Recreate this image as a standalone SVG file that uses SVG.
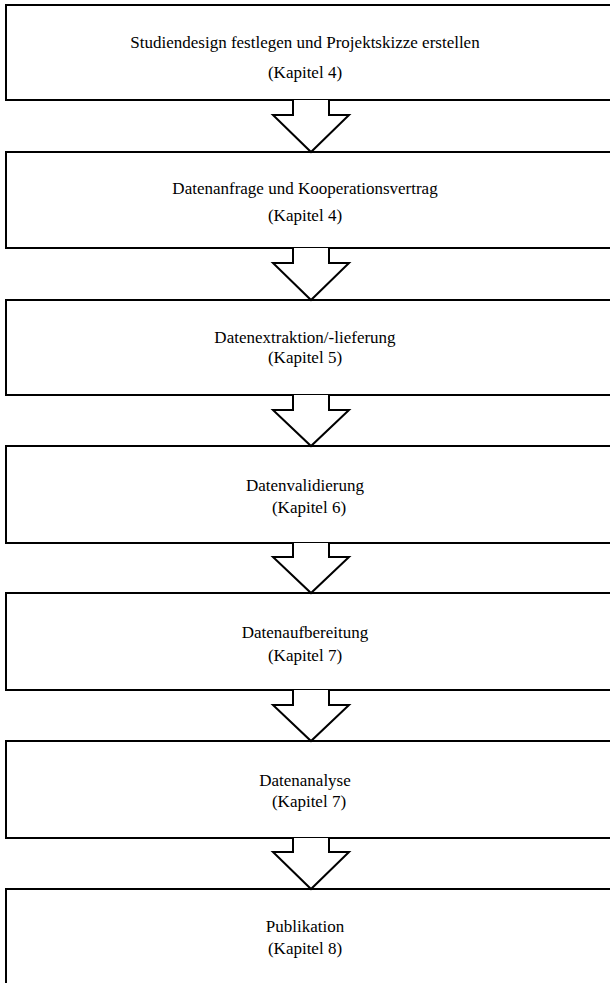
<svg xmlns="http://www.w3.org/2000/svg" width="610" height="983" viewBox="0 0 610 983">
<style>
.box{fill:#fff;stroke:#000;stroke-width:2}
.arr{fill:#fff;stroke:#000;stroke-width:2;stroke-linejoin:miter}
text{font-family:"Liberation Serif","Times New Roman",serif;font-size:17px;fill:#000;text-anchor:middle}
</style>
<rect width="610" height="983" fill="#fff"/>
<g id="n1"><rect class="box" x="6" y="5" width="610" height="95"/><text x="305" y="48">Studiendesign festlegen und Projektskizze erstellen</text><text x="305" y="78">(Kapitel 4)</text></g>
<g id="n2"><rect class="box" x="6" y="152" width="610" height="96"/><text x="305" y="194">Datenanfrage und Kooperationsvertrag</text><text x="305" y="221">(Kapitel 4)</text></g>
<g id="n3"><rect class="box" x="6" y="300" width="610" height="95"/><text x="305" y="343">Datenextraktion/-lieferung</text><text x="305" y="363">(Kapitel 5)</text></g>
<g id="n4"><rect class="box" x="6" y="446" width="610" height="97"/><text x="305" y="491">Datenvalidierung</text><text x="309" y="513">(Kapitel 6)</text></g>
<g id="n5"><rect class="box" x="6" y="593" width="610" height="97"/><text x="305" y="638">Datenaufbereitung</text><text x="305" y="661">(Kapitel 7)</text></g>
<g id="n6"><rect class="box" x="6" y="741" width="610" height="97"/><text x="305" y="786">Datenanalyse</text><text x="309" y="807">(Kapitel 7)</text></g>
<g id="n7"><rect class="box" x="6" y="889" width="610" height="110"/><text x="305" y="932">Publikation</text><text x="305" y="954">(Kapitel 8)</text></g>
<g id="connectors">
<path class="arr" d="M293,100 V115 H273 L311,152 L349,115 H329 V100"/>
<path class="arr" d="M293,248 V263 H273 L311,300 L349,263 H329 V248"/>
<path class="arr" d="M293,395 V410 H273 L311,446 L349,410 H329 V395"/>
<path class="arr" d="M293,543 V557 H273 L311,593 L349,557 H329 V543"/>
<path class="arr" d="M293,690 V705 H273 L311,741 L349,705 H329 V690"/>
<path class="arr" d="M293,838 V852 H273 L311,889 L349,852 H329 V838"/>
</g>
</svg>
